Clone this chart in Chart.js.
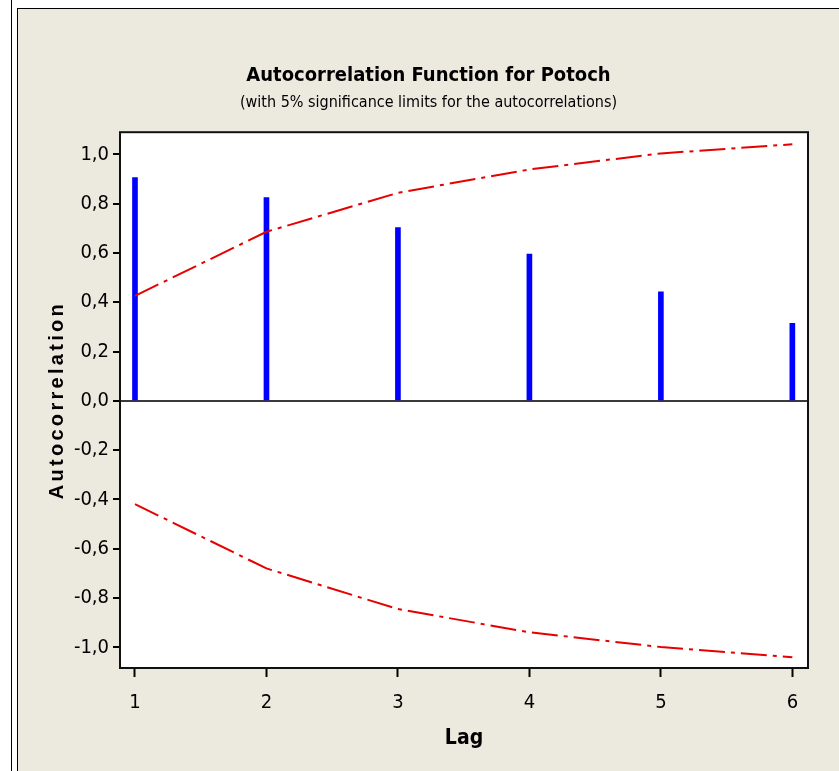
<!DOCTYPE html>
<html>
<head>
<meta charset="utf-8">
<script src="https://cdn.jsdelivr.net/npm/chart.js@4"></script>
<style>
  html, body { margin: 0; padding: 0; background: #fff; }
  body { width: 839px; height: 771px; position: relative; overflow: hidden; }
  .edge1 { position: absolute; left: 11px; top: 0; width: 1px; height: 771px; background: #000; }
  .edge2 { position: absolute; left: 17px; top: 8px; width: 822px; height: 763px; border-left: 1px solid #000; border-top: 1px solid #000; background: #ece9df; box-sizing: border-box; }
  #wrap { position: absolute; left: 18px; top: 9px; width: 821px; height: 762px; }
</style>
</head>
<body>
<div class="edge1"></div>
<div class="edge2"></div>
<div id="wrap"><canvas id="acf"></canvas></div>
<script>
// Lags and autocorrelations
const lags = [1, 2, 3, 4, 5, 6];
const acf = [0.906, 0.825, 0.703, 0.595, 0.442, 0.314];
// 5% significance limits
const upperLimit = [0.426, 0.686, 0.844, 0.939, 1.004, 1.041];
const lowerLimit = [-0.419, -0.680, -0.845, -0.939, -0.999, -1.040];

const narrow = "'Liberation Sans Narrow', 'Arial Narrow', 'DejaVu Sans Condensed', sans-serif";

function pts(vals) {
  return lags.map((l, i) => ({ x: l, y: vals[i] }));
}

// white plot area and black frame
const framePlugin = {
  id: 'frame',
  beforeDraw(chart) {
    const { ctx, chartArea: a } = chart;
    ctx.save();
    ctx.fillStyle = '#fff';
    ctx.fillRect(a.left, a.top, a.right - a.left, a.bottom - a.top);
    ctx.restore();
  },
  afterDraw(chart) {
    const { ctx, chartArea: a } = chart;
    ctx.save();
    ctx.strokeStyle = '#111';
    ctx.lineWidth = 2;
    ctx.strokeRect(a.left, a.top, a.right - a.left, a.bottom - a.top);
    ctx.restore();
  }
};

const limitStyle = {
  type: 'line',
  borderColor: '#e60000',
  borderWidth: 2,
  borderDash: [26, 6, 4, 6],
  pointRadius: 0,
  tension: 0,
  fill: false
};

new Chart(document.getElementById('acf'), {
  type: 'bar',
  data: {
    datasets: [
      Object.assign({ label: 'Upper', data: pts(upperLimit), order: 1 }, limitStyle),
      Object.assign({ label: 'Lower', data: pts(lowerLimit), order: 1 }, limitStyle),
      {
        label: 'ACF',
        data: pts(acf),
        backgroundColor: '#0000ff',
        barThickness: 5,
        order: 2
      }
    ]
  },
  options: {
    responsive: true,
    maintainAspectRatio: false,
    animation: false,
    layout: { padding: 0 },
    plugins: {
      legend: { display: false },
      tooltip: { enabled: false },
      title: {
        display: true,
        text: 'Autocorrelation Function for Potoch',
        color: '#000',
        font: { family: narrow, size: 20, weight: 'bold' },
        padding: { top: 55, bottom: 3 }
      },
      subtitle: {
        display: true,
        text: '(with 5% significance limits for the autocorrelations)',
        color: '#000',
        font: { family: narrow, size: 16 },
        padding: { top: 2, bottom: 20 }
      }
    },
    scales: {
      x: {
        type: 'linear',
        min: 0.886,
        max: 6.119,
        offset: false,
        afterFit(scale) { scale.height = 103; },
        border: { display: false },
        grid: { offset: false, drawOnChartArea: false, tickLength: 9, tickColor: '#000', tickWidth: 2 },
        ticks: {
          stepSize: 1,
          includeBounds: false,
          color: '#000',
          padding: 14,
          font: { family: narrow, size: 20 },
          callback: v => String(v)
        },
        title: {
          display: true,
          text: 'Lag',
          color: '#000',
          font: { family: narrow, size: 21, weight: 'bold' },
          padding: { top: 0, bottom: 20 }
        }
      },
      y: {
        min: -1.084,
        max: 1.090,
        afterFit(scale) {
          scale.width = 102;
          // spaced-out axis title, as in the original
          if (!scale._spaced) {
            const orig = scale.drawTitle;
            scale.drawTitle = function () {
              this.ctx.save();
              this.ctx.letterSpacing = '3.3px';
              orig.call(this);
              this.ctx.restore();
            };
            scale._spaced = true;
          }
        },
        border: { display: false },
        grid: {
          drawOnChartArea: true,
          color: c => Math.abs(c.tick.value) < 1e-9 ? '#3a3a3a' : 'rgba(0,0,0,0)',
          lineWidth: 2,
          tickLength: 7,
          tickColor: '#000',
          tickWidth: 2
        },
        ticks: {
          stepSize: 0.2,
          includeBounds: false,
          color: '#000',
          padding: 4,
          font: { family: narrow, size: 20 },
          callback: v => (Math.abs(v) < 1e-9 ? 0 : v).toFixed(1).replace('.', ',')
        },
        title: {
          display: true,
          text: 'Autocorrelation',
          color: '#000',
          font: { family: "'Liberation Sans', Arial, sans-serif", size: 20, weight: 'bold' },
          padding: { top: 27, bottom: 0 }
        }
      },
      // empty right margin so the titles centre on the whole panel
      yRight: {
        position: 'right',
        min: -1.084,
        max: 1.090,
        afterFit(scale) { scale.width = 31; },
        border: { display: false },
        grid: { display: false },
        ticks: { display: false }
      }
    }
  },
  plugins: [framePlugin]
});
</script>
</body>
</html>
